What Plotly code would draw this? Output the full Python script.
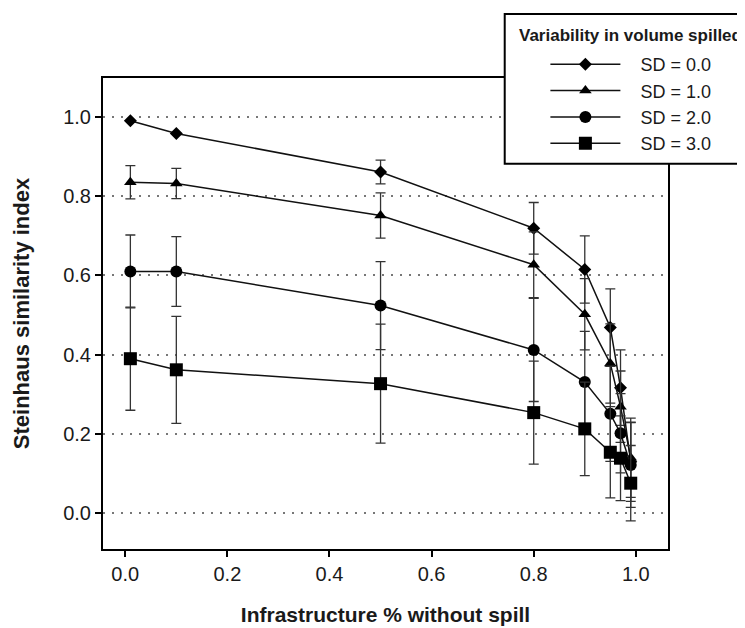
import plotly.graph_objects as go

# ---- data ----
x_vals = [0.01, 0.1, 0.5, 0.8, 0.9, 0.95, 0.97, 0.99]

sd0 = [0.990, 0.958, 0.861, 0.719, 0.615, 0.469, 0.317, 0.130]
sd0_err = [0.0, 0.0, 0.030, 0.065, 0.085, 0.097, 0.095, 0.100]

sd1 = [0.835, 0.832, 0.751, 0.627, 0.502, 0.378, 0.269, 0.140]
sd1_err = [0.042, 0.038, 0.057, 0.083, 0.090, 0.100, 0.090, 0.100]

sd2 = [0.610, 0.610, 0.524, 0.412, 0.331, 0.251, 0.202, 0.122]
sd2_err = [0.092, 0.088, 0.111, 0.130, 0.128, 0.120, 0.100, 0.107]

sd3 = [0.390, 0.362, 0.327, 0.254, 0.213, 0.154, 0.139, 0.076]
sd3_err = [0.130, 0.135, 0.150, 0.130, 0.118, 0.115, 0.107, 0.095]

series_names = ["SD = 0.0", "SD = 1.0", "SD = 2.0", "SD = 3.0"]
series_vals = [sd0, sd1, sd2, sd3]
series_errs = [sd0_err, sd1_err, sd2_err, sd3_err]
symbols = ["diamond", "triangle-up", "circle", "square"]
sizes = [10, 11, 12, 13]

tick_vals = [0.0, 0.2, 0.4, 0.6, 0.8, 1.0]

legend_title = "Variability in volume spilled"
x_title = "Infrastructure % without spill"
y_title = "Steinhaus similarity index"

FONT = "Arial, Liberation Sans, Helvetica, sans-serif"
TXT = "#1a1a1a"

fig = go.Figure()
for name, vals, errs, sym, sz in zip(series_names, series_vals, series_errs, symbols, sizes):
    fig.add_trace(go.Scatter(
        x=x_vals, y=vals, name="\u00a0\u00a0\u00a0" + name,
        mode="lines+markers",
        line=dict(color="#111111", width=1.5),
        marker=dict(symbol=sym, size=sz, color="#000000"),
        error_y=dict(type="data", array=errs, visible=True,
                     color="#333333", thickness=1.3, width=5),
    ))

# page body adds an 8px margin, so the figure is 8px smaller than the window
fig.update_layout(
    width=737, height=620,
    margin=dict(l=95, r=77, t=70, b=79, autoexpand=False),
    paper_bgcolor="white", plot_bgcolor="white",
    font=dict(family=FONT, color=TXT),
    showlegend=True,
    legend=dict(
        x=0.783, y=1.068, xanchor="left", yanchor="top",
        bgcolor="rgba(0,0,0,0)", borderwidth=0,
        font=dict(size=18, color=TXT, family=FONT),
        itemwidth=70,
    ),
    xaxis=dict(
        range=[-0.0436, 1.063], tickvals=tick_vals, tickformat=".1f",
        showline=True, linecolor="black", linewidth=2, mirror=True,
        ticks="outside", ticklen=6, tickwidth=1.5, tickcolor="black",
        tickfont=dict(size=20, color=TXT), showgrid=False, zeroline=False,
        title=dict(text="<b>" + x_title + "</b>", font=dict(size=21, color=TXT), standoff=23),
    ),
    yaxis=dict(
        range=[-0.09, 1.098], tickvals=tick_vals, tickformat=".1f",
        showline=True, linecolor="black", linewidth=2, mirror=True,
        ticks="outside", ticklen=6, tickwidth=1.5, tickcolor="black",
        tickfont=dict(size=20, color=TXT),
        showgrid=True, gridcolor="#777777", gridwidth=1.5, griddash="2px,7px",
        zeroline=False,
        title=dict(text="<b>" + y_title + "</b>", font=dict(size=22, color=TXT), standoff=27),
    ),
)

# legend frame (white box overlapping the plot corner) and its title
fig.add_shape(type="rect", xref="paper", yref="paper",
              x0=0.711, x1=1.2, y0=0.818, y1=1.136,
              line=dict(color="black", width=2), fillcolor="white", layer="above")
fig.add_annotation(xref="paper", yref="paper", x=0.733, y=1.091,
                   xanchor="left", yanchor="middle", showarrow=False,
                   text="<b>" + legend_title + "</b>",
                   font=dict(size=17, color=TXT, family=FONT))

fig.write_html("out.html")
